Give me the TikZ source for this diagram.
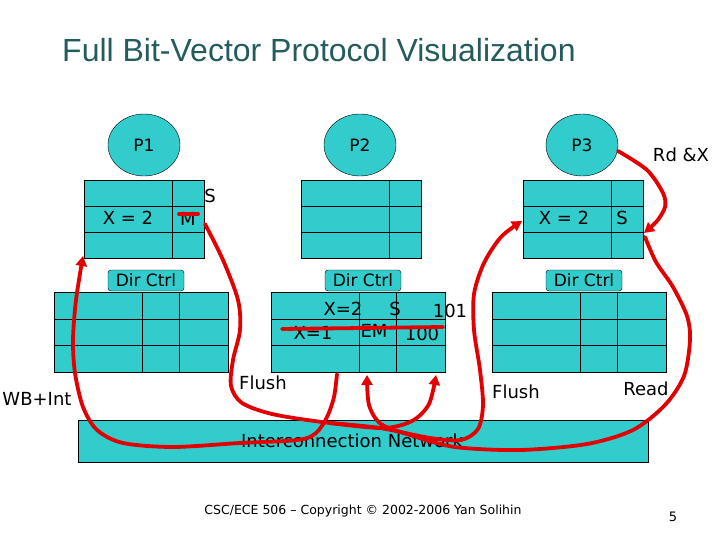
\documentclass[tikz,border=0pt]{standalone}
\usepackage{fontspec}
\setmainfont{DejaVu Sans}
\newfontfamily\titlefont{Liberation Sans}
\usetikzlibrary{shapes.geometric,arrows.meta,calc}
\definecolor{tealf}{RGB}{51,204,204}
\definecolor{redc}{RGB}{226,0,0}
\definecolor{titlec}{RGB}{36,92,92}
\begin{document}
\begin{tikzpicture}[x=1pt,y=-1pt,
  proc/.style={ellipse,draw,fill=tealf,minimum width=72pt,minimum height=62pt,inner sep=0pt,font=\fontsize{17}{19}\selectfont},
  boxx/.style={draw,fill=tealf,rectangle,inner sep=0pt},
  lbl/.style={inner sep=0pt,font=\fontsize{18}{20}\selectfont},
  small/.style={inner sep=0pt,font=\fontsize{12.5}{14}\selectfont},
  dirlbl/.style={draw,fill=tealf,rounded corners=3pt,minimum width=76pt,minimum height=21pt,inner sep=0pt,font=\fontsize{17}{19}\selectfont},
  wire/.style={draw=redc,line width=3.8pt,line cap=round,line join=round},
  arr/.style={wire,-{Triangle[length=10pt,width=11pt]}}]
\useasboundingbox (0,0) rectangle (720,540);

% title
\node[anchor=west,inner sep=0pt,text=titlec,font=\titlefont\fontsize{32}{36}\selectfont] (title) at (62,50) {Full Bit-Vector Protocol Visualization};

% processors
\node[proc] (p1) at (144,145) {P1};
\node[proc] (p2) at (360,145) {P2};
\node[proc] (p3) at (582,145) {P3};

% caches
\foreach \n/\x in {c1/84,c2/301,c3/523} {
  \node[boxx,anchor=north west,minimum width=120pt,minimum height=78pt] (\n) at (\x,180) {};
  \draw (\x+88,180) -- (\x+88,258);
  \draw (\x,206) -- (\x+120,206);
  \draw (\x,232) -- (\x+120,232);
}

% directories
\foreach \n/\x in {d1/54,d2/271,d3/492} {
  \node[boxx,anchor=north west,minimum width=174pt,minimum height=80pt] (\n) at (\x,292) {};
  \draw (\x+88,292) -- (\x+88,372);
  \draw (\x+125,292) -- (\x+125,372);
  \draw (\x,319) -- (\x+174,319);
  \draw (\x,345) -- (\x+174,345);
  \node[dirlbl] (\n l) at (\x+92,280.5) {Dir Ctrl};
}

% network
\node[boxx,minimum width=570pt,minimum height=42pt] (net) at (363,441) {};
\node[lbl] (nett) at (352,441) {Interconnection Network};

% cache texts
\node[lbl] (t1) at (128,218) {X = 2};
\node[lbl] (t2) at (188,219) {M};
\node[lbl] (t3) at (210,196) {S};
\node[lbl] (t4) at (564,218) {X = 2};
\node[lbl] (t5) at (622,218) {S};

% directory texts
\node[lbl] (u1) at (343,309) {X=2};
\node[lbl] (u2) at (395,309) {S};
\node[lbl] (u3) at (450,311) {101};
\node[lbl] (u4) at (313,333) {X=1};
\node[lbl] (u5) at (374,331) {EM};
\node[lbl] (u6) at (422,334) {100};

% labels
\node[lbl] (l1) at (37,399) {WB+Int};
\node[lbl] (l2) at (263,383) {Flush};
\node[lbl] (l3) at (516,392) {Flush};
\node[lbl] (l4) at (646,389) {Read};
\node[lbl] (l5) at (681,155) {Rd \&X};

% footer
\node[small] (foot) at (363,511) {CSC/ECE 506 – Copyright © 2002-2006 Yan Solihin};
\node[small,font=\fontsize{13}{15}\selectfont] (pg) at (673,517) {5};

% endpoints
\coordinate (aS) at (618,151);
\coordinate (aE) at (644,233);
\coordinate (bS) at (645,237);
\coordinate (bE) at (367,375);
\coordinate (cS) at (205,224);
\coordinate (cE) at (436,375);
\coordinate (eS) at (330,423);
\coordinate (eE) at (522,221);
\coordinate (dS) at (337,374);
\coordinate (dE) at (83,256);

% strike-outs
\draw[wire] (179,214) -- (198,214);
\draw[wire] (282,329) -- (443,327);

% red connectors
\draw[arr] plot[smooth] coordinates {(aS) (647,170) (663,193) (665,207) (657,221) (aE)};
\draw[arr] plot[smooth] coordinates {(bS) (656,262) (673,287) (687,316) (690,340) (684,376) (665,405) (633,430) (587,444) (520,450) (455,447) (410,435) (381,424) (369,405) (bE)};
\draw[arr] plot[smooth] coordinates {(cS) (223,260) (238,300) (240,330) (233,360) (231,386) (242,403) (272,414) (322,422) (382,428) (412,421) (429,404) (cE)};
\draw[arr] plot[smooth] coordinates {(eS) (380,428) (430,438) (461,440) (478,429) (483,405) (480,370) (474,330) (474,294) (484,263) (501,237) (eE)};
\draw[arr] plot[smooth] coordinates {(dS) (334,397) (327,417) (316,433) (298,440) (240,443) (173,447) (123,443) (97,430) (83,407) (75,373) (73,340) (76,300) (dE)};
\end{tikzpicture}
\end{document}
